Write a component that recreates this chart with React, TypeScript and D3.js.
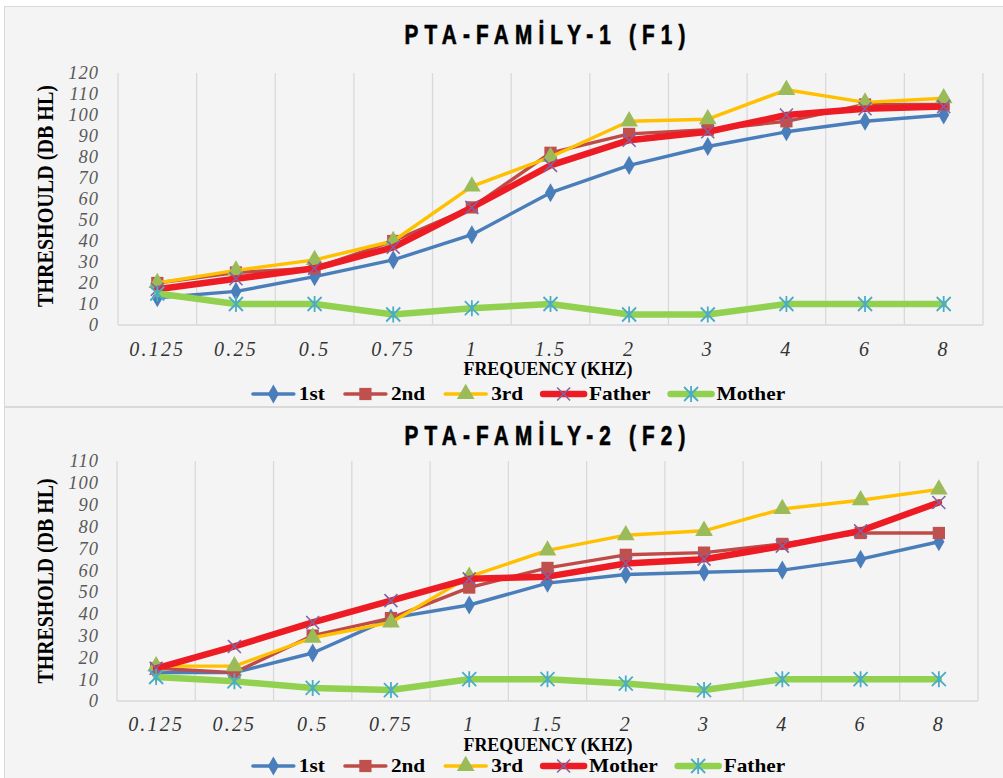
import React from 'react';
import * as d3 from 'd3';

// ---------- DATA ----------
const FREQUENCIES = ["0.125", "0.25", "0.5", "0.75", "1", "1.5", "2", "3", "4", "6", "8"];

const F1_Y_TICKS = [0, 10, 20, 30, 40, 50, 60, 70, 80, 90, 100, 110, 120];
const F1_FIRST = [13, 16, 23, 31, 43, 63, 76, 85, 92, 97, 100];
const F1_SECOND = [20, 25, 27, 40, 56, 82, 91, 93, 97, 105, 105];
const F1_THIRD = [20, 26, 31, 40, 66, 80, 97, 98, 112, 106, 108];
const F1_FATHER = [17, 22, 27, 37, 56, 76, 88, 92, 100, 103, 104];
const F1_MOTHER = [15, 10, 10, 5, 8, 10, 5, 5, 10, 10, 10];

const F2_Y_TICKS = [0, 10, 20, 30, 40, 50, 60, 70, 80, 90, 100, 110];
const F2_FIRST = [13, 13, 22, 38, 44, 54, 58, 59, 60, 65, 73];
const F2_SECOND = [15, 13, 30, 38, 52, 61, 67, 68, 72, 77, 77];
const F2_THIRD = [16, 16, 29, 36, 57, 69, 76, 78, 88, 92, 97];
const F2_MOTHER = [15, 25, 36, 46, 56, 57, 63, 65, 71, 78, 91];
const F2_FATHER = [11, 9, 6, 5, 10, 10, 8, 5, 10, 10, 10];

// ---------- STYLES ----------
type Marker = 'diamond' | 'square' | 'triangle' | 'x' | 'star';
interface Series { name: string; values: number[]; color: string; width: number; marker: Marker; markerColor: string; }

const STYLE_FIRST = { color: '#4a7ebb', width: 3.4, marker: 'diamond' as Marker, markerColor: '#4a7ebb' };
const STYLE_SECOND = { color: '#be4b48', width: 3.4, marker: 'square' as Marker, markerColor: '#c0504d' };
const STYLE_THIRD = { color: '#ffc000', width: 3.4, marker: 'triangle' as Marker, markerColor: '#9bbb59' };
const STYLE_RED = { color: '#ed1c24', width: 6.5, marker: 'x' as Marker, markerColor: '#8064a2' };
const STYLE_GREEN = { color: '#92d050', width: 6.5, marker: 'star' as Marker, markerColor: '#4bacc6' };

const F1_SERIES: Series[] = [
  { name: '1st', values: F1_FIRST, ...STYLE_FIRST },
  { name: '2nd', values: F1_SECOND, ...STYLE_SECOND },
  { name: '3rd', values: F1_THIRD, ...STYLE_THIRD },
  { name: 'Father', values: F1_FATHER, ...STYLE_RED },
  { name: 'Mother', values: F1_MOTHER, ...STYLE_GREEN },
];
const F2_SERIES: Series[] = [
  { name: '1st', values: F2_FIRST, ...STYLE_FIRST },
  { name: '2nd', values: F2_SECOND, ...STYLE_SECOND },
  { name: '3rd', values: F2_THIRD, ...STYLE_THIRD },
  { name: 'Mother', values: F2_MOTHER, ...STYLE_RED },
  { name: 'Father', values: F2_FATHER, ...STYLE_GREEN },
];

const SERIF = '"Liberation Serif", "DejaVu Serif", serif';
const SANS = '"Liberation Sans", Arial, sans-serif';

function markerEl(m: Marker, color: string, key: string, x: number, y: number) {
  const t = `translate(${x},${y})`;
  if (m === 'diamond') return <path key={key} transform={t} d={d3.symbol(d3.symbolDiamond, 105)()!} fill={color} />;
  if (m === 'square') return <path key={key} transform={t} d={d3.symbol(d3.symbolSquare, 150)()!} fill={color} />;
  if (m === 'triangle') return <path key={key} transform={t} d={d3.symbol(d3.symbolTriangle, 135)()!} fill={color} />;
  if (m === 'x') return <path key={key} transform={t} d="M-6.5,-6.5L6.5,6.5M-6.5,6.5L6.5,-6.5" stroke={color} strokeWidth={1.6} fill="none" />;
  return <path key={key} transform={t} d="M0,-8L0,8M-7,-7L7,7M-7,7L7,-7" stroke={color} strokeWidth={1.8} fill="none" />;
}

let measureCtx: CanvasRenderingContext2D | null = null;
function textWidth(s: string, font: string) {
  if (!measureCtx) measureCtx = document.createElement('canvas').getContext('2d');
  if (!measureCtx) return s.length * 10;
  measureCtx.font = font;
  return measureCtx.measureText(s).width;
}

interface Layout {
  panelY: number; panelH: number;
  title: string; titleY: number;
  yTitle: string; yTitleCenter: number; yTitleLen: number;
  yMax: number; yTicks: number[];
  plotLeft: number; plotRight: number; plotTop: number; plotBottom: number;
  tickLabelY: number; xTitleY: number; legendY: number;
}

function Chart({ series, L }: { series: Series[]; L: Layout }) {
  const x = d3.scaleBand<string>().domain(FREQUENCIES).range([L.plotLeft, L.plotRight]).padding(0);
  const y = d3.scaleLinear().domain([0, L.yMax]).range([L.plotBottom, L.plotTop]);
  const cx = (f: string) => (x(f) as number) + x.bandwidth() / 2;
  const line = d3.line<number>().x((_, i) => cx(FREQUENCIES[i])).y(v => y(v));
  const gridXs = FREQUENCIES.map(f => x(f) as number).concat([L.plotRight]);

  // legend layout
  const legendFont = `bold 19px ${SERIF}`;
  const lineW = 45, gapAfterLine = 3, gapItems = 18;
  const widths = series.map(s => textWidth(s.name, legendFont) * 1.12);
  const total = series.length * (lineW + gapAfterLine) + d3.sum(widths) + (series.length - 1) * gapItems;
  let lx = 518 - total / 2;
  const legendItems = series.map((s, i) => {
    const start = lx;
    lx += lineW + gapAfterLine + widths[i] + gapItems;
    return { s, start, w: widths[i] };
  });

  const titleScale = 0.74;

  return (
    <g>
      <rect x={4.5} y={L.panelY + 0.5} width={1000} height={L.panelH} fill="#f4f4f4" stroke="#d9d9d9" strokeWidth={1} />
      <g transform={`translate(545,${L.titleY}) scale(${titleScale},1)`}>
        <text x={0} y={0} textAnchor="middle" fontFamily={SANS} fontWeight="bold" fontSize={28}
          textLength={281 / titleScale} lengthAdjust="spacing" fill="#000" stroke="#000" strokeWidth={0.7}>{L.title}</text>
      </g>
      {/* grid */}
      {gridXs.map((gx, i) => (
        <line key={'g' + i} x1={gx} x2={gx} y1={L.plotTop} y2={L.plotBottom} stroke="#d9d9d9" strokeWidth={1.3} />
      ))}
      <line x1={L.plotLeft} x2={L.plotRight} y1={L.plotBottom} y2={L.plotBottom} stroke="#d9d9d9" strokeWidth={1.5} />
      {/* y ticks */}
      {L.yTicks.map(t => (
        <text key={'yt' + t} x={99} y={y(t)} dy="0.35em" textAnchor="end" fontFamily={SERIF} fontStyle="italic"
          fontSize={18.5} letterSpacing={1} fill="#595959">{t}</text>
      ))}
      {/* x ticks */}
      {FREQUENCIES.map(f => (
        <text key={'xt' + f} x={cx(f)} y={L.tickLabelY} dy="0.35em" textAnchor="middle" fontFamily={SERIF} fontStyle="italic"
          fontSize={20} letterSpacing={2.2} fill="#333">{f}</text>
      ))}
      {/* axis titles */}
      <text x={548} y={L.xTitleY} textAnchor="middle" fontFamily={SERIF} fontWeight="bold" fontSize={19}
        textLength={169} lengthAdjust="spacingAndGlyphs" fill="#000">FREQUENCY (KHZ)</text>
      <text transform={`translate(53,${L.yTitleCenter}) rotate(-90)`} textAnchor="middle" fontFamily={SERIF} fontWeight="bold"
        fontSize={23} textLength={L.yTitleLen} lengthAdjust="spacingAndGlyphs" fill="#000">{L.yTitle}</text>
      {/* series */}
      {series.map(s => (
        <g key={s.name}>
          <path d={line(s.values)!} fill="none" stroke={s.color} strokeWidth={s.width} strokeLinejoin="round" strokeLinecap="round" />
          {s.values.map((v, i) => markerEl(s.marker, s.markerColor, s.name + i, cx(FREQUENCIES[i]), y(v)))}
        </g>
      ))}
      {/* legend */}
      {legendItems.map(({ s, start, w }) => (
        <g key={'lg' + s.name}>
          <line x1={start + 2} x2={start + lineW - 2} y1={L.legendY} y2={L.legendY} stroke={s.color} strokeWidth={s.width} strokeLinecap="round" />
          {markerEl(s.marker, s.markerColor, 'lm' + s.name, start + lineW / 2, L.legendY)}
          <text x={start + lineW + gapAfterLine} y={L.legendY} dy="0.33em" fontFamily={SERIF} fontWeight="bold" fontSize={19}
            textLength={w} lengthAdjust="spacingAndGlyphs" fill="#000">{s.name}</text>
        </g>
      ))}
    </g>
  );
}

const LAYOUT_1: Layout = {
  panelY: 6, panelH: 400,
  title: 'PTA-FAMİLY-1 (F1)', titleY: 44,
  yTitle: 'THRESHOULD (DB HL)', yTitleCenter: 196, yTitleLen: 222,
  yMax: 120, yTicks: F1_Y_TICKS,
  plotLeft: 118, plotRight: 983, plotTop: 73, plotBottom: 325,
  tickLabelY: 349, xTitleY: 375, legendY: 394,
};
const LAYOUT_2: Layout = {
  panelY: 407, panelH: 380,
  title: 'PTA-FAMİLY-2 (F2)', titleY: 445,
  yTitle: 'THRESHOLD (DB HL)', yTitleCenter: 581, yTitleLen: 205,
  yMax: 110, yTicks: F2_Y_TICKS,
  plotLeft: 117, plotRight: 978, plotTop: 461, plotBottom: 701,
  tickLabelY: 724, xTitleY: 751, legendY: 766,
};

export default function App() {
  return (
    <svg width={1003} height={778} style={{ position: 'absolute', left: 0, top: 0, background: '#fff' }}>
      <Chart series={F1_SERIES} L={LAYOUT_1} />
      <Chart series={F2_SERIES} L={LAYOUT_2} />
    </svg>
  );
}
